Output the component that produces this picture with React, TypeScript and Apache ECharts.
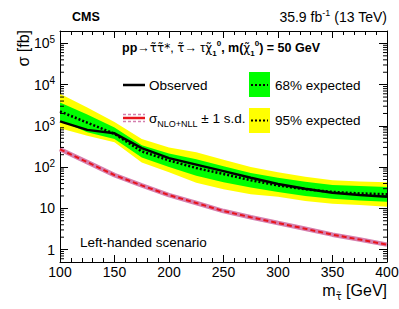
import React, { useEffect, useRef } from 'react';
import * as echarts from 'echarts';

const MASS = [100, 125, 150, 175, 200, 225, 250, 275, 300, 325, 350, 375, 400];
const OBSERVED = [1290, 800, 660, 290, 165, 115, 80, 55, 39, 30, 24, 21, 19];
const EXPECTED = [2240, 1200, 640, 240, 145, 95, 68, 48, 36, 29, 25, 23, 22];
const EXP_P1 = [3700, 1900, 920, 340, 215, 155, 105, 72, 55, 44, 37, 35, 33];
const EXP_M1 = [1350, 700, 480, 170, 100, 62, 43, 32, 25, 20, 17, 15.5, 14.5];
const EXP_P2 = [6000, 2800, 1250, 480, 300, 230, 150, 100, 75, 58, 48, 45, 43];
const EXP_M2 = [880, 580, 400, 130, 75, 42, 29, 22, 19, 15, 13, 12, 11];
const THEORY = [270, 132, 64, 36, 21, 13.5, 8.6, 6.1, 4.4, 3.2, 2.3, 1.75, 1.32];

const X_MIN = 100;
const X_MAX = 400;
const X_STEP = 50;
const Y_MIN = 0.5;
const Y_MAX = 2e5;
const Y_MINOR_MULT = [2, 3, 4, 5, 6, 7, 8, 9];
const Y_DECADES = [0.1, 1, 10, 100, 1000, 10000, 100000];

const FONT = '"Liberation Sans", Arial, Helvetica, sans-serif';
const SYM = '"DejaVu Sans", sans-serif';

export default function App() {
  const ref = useRef<HTMLDivElement>(null);

  useEffect(() => {
    document.body.style.margin = '0';
    if (!ref.current) return;
    const chart = echarts.init(ref.current, undefined, { renderer: 'svg' });

    const yMinor: number[] = [];
    Y_DECADES.forEach((d) =>
      Y_MINOR_MULT.forEach((m) => {
        const v = d * m;
        if (v > Y_MIN && v < Y_MAX) yMinor.push(v);
      })
    );

    const yFormatter = (v: number) => {
      const e = Math.round(Math.log10(v));
      const p = Math.pow(10, e);
      if (Math.abs(v - p) / p > 1e-6) return '';
      if (e === 0) return '1';
      if (e === 1) return '10';
      return '10{sup|' + e + '}';
    };

    const xAxisBase = {
      type: 'value',
      min: X_MIN,
      max: X_MAX,
      interval: X_STEP,
      axisLine: { show: true, onZero: false, lineStyle: { color: '#000', width: 1 } },
      axisTick: { show: true, inside: true, length: 7, lineStyle: { color: '#000', width: 1 } },
      minorTick: { show: true, splitNumber: 5, length: 4, lineStyle: { color: '#000', width: 1 } },
      splitLine: { show: false },
      minorSplitLine: { show: false },
    };

    const yAxisBase = {
      type: 'log',
      logBase: 10,
      min: Y_MIN,
      max: Y_MAX,
      axisLine: { show: true, onZero: false, lineStyle: { color: '#000', width: 1 } },
      axisTick: { show: true, inside: true, length: 8, lineStyle: { color: '#000', width: 1 } },
      minorTick: { show: false },
      splitLine: { show: false },
    };

    const option: any = {
      animation: false,
      grid: { left: 60, right: 12, top: 31, bottom: 47, containLabel: false, outerBoundsMode: 'none' },
      xAxis: [
        {
          ...xAxisBase,
          position: 'bottom',
          axisLabel: { color: '#000', fontSize: 14, fontFamily: FONT, margin: 3 },
        },
        {
          ...xAxisBase,
          position: 'top',
          axisLabel: { show: false },
        },
      ],
      yAxis: [
        {
          ...yAxisBase,
          position: 'left',
          axisLabel: {
            color: '#000',
            fontSize: 14,
            fontFamily: FONT,
            margin: 5,
            lineHeight: 18,
            formatter: yFormatter,
            rich: {
              sup: { fontSize: 10, fontFamily: FONT, color: '#000', lineHeight: 10, verticalAlign: 'top' },
            },
          },
        },
        {
          ...yAxisBase,
          position: 'right',
          axisLabel: { show: false },
        },
      ],
      series: [
        {
          type: 'custom',
          name: 'bands',
          xAxisIndex: 0,
          yAxisIndex: 0,
          clip: true,
          silent: true,
          data: [[MASS[0], EXPECTED[0]]],
          renderItem: (_p: any, api: any) => {
            const poly = (up: number[], lo: number[], color: string) => {
              const pts: number[][] = [];
              MASS.forEach((m, i) => pts.push(api.coord([m, up[i]])));
              for (let i = MASS.length - 1; i >= 0; i--) pts.push(api.coord([MASS[i], lo[i]]));
              return { type: 'polygon', shape: { points: pts }, style: { fill: color } };
            };
            return {
              type: 'group',
              children: [poly(EXP_P2, EXP_M2, '#ffff00'), poly(EXP_P1, EXP_M1, '#00ff00')],
            };
          },
        },
        {
          type: 'line',
          name: 'theory band',
          data: MASS.map((m, i) => [m, THEORY[i]]),
          symbol: 'none',
          lineStyle: { color: '#d57fae', width: 4.5 },
          z: 3,
        },
        {
          type: 'line',
          name: 'theory',
          data: MASS.map((m, i) => [m, THEORY[i]]),
          symbol: 'none',
          lineStyle: { color: '#e8141c', width: 2, type: [5, 3] },
          z: 4,
        },
        {
          type: 'line',
          name: 'expected',
          data: MASS.map((m, i) => [m, EXPECTED[i]]),
          symbol: 'none',
          lineStyle: { color: '#000', width: 2.5, type: [2, 2] },
          z: 5,
        },
        {
          type: 'line',
          name: 'observed',
          data: MASS.map((m, i) => [m, OBSERVED[i]]),
          symbol: 'none',
          lineStyle: { color: '#000', width: 2.5 },
          z: 6,
        },
        {
          type: 'custom',
          name: 'yminor',
          xAxisIndex: 0,
          yAxisIndex: 0,
          silent: true,
          z: 10,
          data: [[X_MIN, 1]],
          renderItem: (_p: any, api: any) => {
            const children: any[] = [];
            yMinor.forEach((v) => {
              const [xl, y] = api.coord([X_MIN, v]);
              const [xr] = api.coord([X_MAX, v]);
              children.push({ type: 'line', shape: { x1: xl, y1: y, x2: xl + 4, y2: y }, style: { stroke: '#000', lineWidth: 1 } });
              children.push({ type: 'line', shape: { x1: xr, y1: y, x2: xr - 4, y2: y }, style: { stroke: '#000', lineWidth: 1 } });
            });
            return { type: 'group', children };
          },
        },
      ],
      graphic: [
        {
          type: 'text',
          x: 72,
          y: 17,
          style: { text: 'CMS', fontSize: 12.5, fontWeight: 'bold', fontFamily: FONT, fill: '#000', align: 'left', verticalAlign: 'middle' },
        },
        {
          type: 'text',
          x: 387,
          y: 17,
          style: {
            text: '35.9 fb{sup|-1} (13 TeV)',
            fontSize: 14,
            fontFamily: FONT,
            fill: '#000',
            align: 'right',
            verticalAlign: 'middle',
            lineHeight: 17,
            rich: { sup: { fontSize: 9, fontFamily: FONT, fill: '#000', lineHeight: 9, verticalAlign: 'top' } },
          },
        },
        {
          type: 'text',
          x: 23,
          y: 30,
          rotation: Math.PI / 2,
          style: { text: 'σ [fb]', fontSize: 16, fontFamily: FONT, fill: '#000', align: 'right', verticalAlign: 'middle' },
        },
        {
          type: 'text',
          x: 387,
          y: 290,
          style: {
            text: 'm{sub|τ̃}{n|\u00a0[GeV]}',
            fontSize: 16,
            fontFamily: FONT,
            fill: '#000',
            align: 'right',
            verticalAlign: 'middle',
            lineHeight: 22,
            rich: {
              n: { fontSize: 16, fontFamily: FONT, fill: '#000', lineHeight: 22 },
              sub: { fontSize: 10, fontFamily: SYM, fill: '#000', lineHeight: 13, verticalAlign: 'bottom' },
            },
          },
        },
        {
          type: 'text',
          x: 80,
          y: 242,
          style: { text: 'Left-handed scenario', fontSize: 13.5, fontFamily: FONT, fill: '#000', align: 'left', verticalAlign: 'middle' },
        },
        {
          type: 'text',
          x: 122,
          y: 48,
          style: {
            text: '{b|pp}{n|→}{t|τ̃τ̃*}{n|, }{t|τ̃}{n|→ τ}{t|χ̃}{sub|1}{sup|0}{b|, m(}{t|χ̃}{sub|1}{sup|0}{b|) = 50 GeV}',
            fontSize: 12.5,
            fontFamily: FONT,
            fill: '#000',
            align: 'left',
            verticalAlign: 'middle',
            lineHeight: 18,
            rich: {
              b: { fontSize: 12.5, fontWeight: 'bold', fontFamily: FONT, fill: '#000', lineHeight: 18 },
              n: { fontSize: 12.5, fontFamily: FONT, fill: '#000', lineHeight: 18 },
              t: { fontSize: 12, fontFamily: SYM, fill: '#000', lineHeight: 18 },
              sup: { fontSize: 8, fontWeight: 'bold', fontFamily: FONT, fill: '#000', lineHeight: 9, verticalAlign: 'top' },
              sub: { fontSize: 8, fontWeight: 'bold', fontFamily: FONT, fill: '#000', lineHeight: 9, verticalAlign: 'bottom' },
            },
          },
        },
        // legend: observed
        { type: 'line', shape: { x1: 123, y1: 85, x2: 145, y2: 85 }, style: { stroke: '#000', lineWidth: 2.5 } },
        {
          type: 'text',
          x: 149,
          y: 85,
          style: { text: 'Observed', fontSize: 13.5, fontFamily: FONT, fill: '#000', align: 'left', verticalAlign: 'middle' },
        },
        // legend: theory
        { type: 'line', shape: { x1: 123, y1: 114.5, x2: 145, y2: 114.5 }, style: { stroke: '#d57fae', lineWidth: 1.5, lineDash: [3, 2] } },
        { type: 'line', shape: { x1: 123, y1: 121.5, x2: 145, y2: 121.5 }, style: { stroke: '#d57fae', lineWidth: 1.5, lineDash: [3, 2] } },
        { type: 'line', shape: { x1: 123, y1: 118, x2: 145, y2: 118 }, style: { stroke: '#e8141c', lineWidth: 2.5 } },
        {
          type: 'text',
          x: 149,
          y: 118,
          style: {
            text: 'σ{sub|NLO+NLL} ± 1 s.d.',
            fontSize: 13.5,
            fontFamily: FONT,
            fill: '#000',
            align: 'left',
            verticalAlign: 'middle',
            lineHeight: 20,
            rich: { sub: { fontSize: 9, fontFamily: FONT, fill: '#000', lineHeight: 12, verticalAlign: 'bottom' } },
          },
        },
        // legend: 68%
        { type: 'rect', shape: { x: 249, y: 72, width: 21, height: 25 }, style: { fill: '#00ff00' } },
        { type: 'line', shape: { x1: 251, y1: 85, x2: 268, y2: 85 }, style: { stroke: '#000', lineWidth: 2, lineDash: [2, 2] } },
        {
          type: 'text',
          x: 275,
          y: 85,
          style: { text: '68% expected', fontSize: 13.5, fontFamily: FONT, fill: '#000', align: 'left', verticalAlign: 'middle' },
        },
        // legend: 95%
        { type: 'rect', shape: { x: 249, y: 108, width: 21, height: 25 }, style: { fill: '#ffff00' } },
        { type: 'line', shape: { x1: 251, y1: 120.5, x2: 268, y2: 120.5 }, style: { stroke: '#000', lineWidth: 2, lineDash: [2, 2] } },
        {
          type: 'text',
          x: 275,
          y: 120,
          style: { text: '95% expected', fontSize: 13.5, fontFamily: FONT, fill: '#000', align: 'left', verticalAlign: 'middle' },
        },
      ],
    };

    chart.setOption(option);
    return () => chart.dispose();
  }, []);

  return <div ref={ref} style={{ width: 399, height: 309 }} />;
}
